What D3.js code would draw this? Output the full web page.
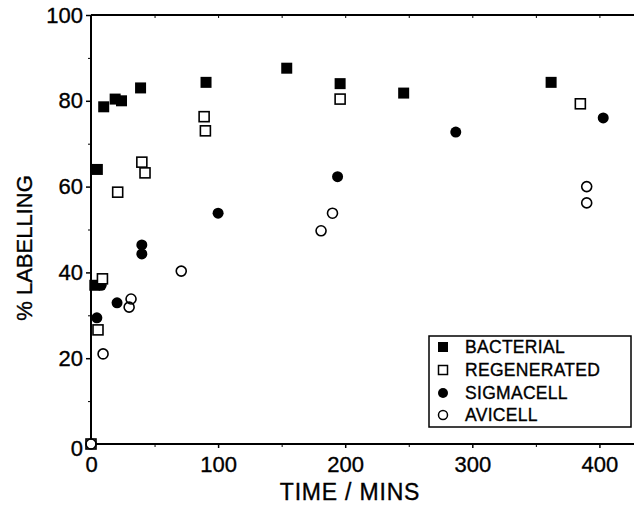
<!DOCTYPE html>
<html><head><meta charset="utf-8">
<script src="https://cdn.jsdelivr.net/npm/d3@7"></script>
<style>body{margin:0;background:#fff}svg{display:block}text{font-family:"Liberation Sans",Arial,sans-serif;fill:#000;stroke:#000;stroke-width:0.35px}</style>
</head><body><svg id="c" width="634" height="520"></svg>
<script>
const xTicks = [0, 100, 200, 300, 400];
const yTicks = [0, 20, 40, 60, 80, 100];
const seriesNames = ["BACTERIAL", "REGENERATED", "SIGMACELL", "AVICELL"];
const bacterial = [[3,37],[5,64],[10,78.6],[19,80.4],[24,80],[39,83],[90.5,84.3],[154,87.6],[196,84],[246,81.8],[362,84.3]];
const regenerated = [[0,0],[5.5,26.6],[9,38.5],[21,58.7],[40,65.7],[42.5,63.2],[89,76.3],[90,73],[196,80.4],[385,79.3]];
const sigmacell = [[4.6,29.4],[8,37],[20.5,32.9],[40,46.4],[40,44.3],[100,53.8],[194,62.3],[287,72.7],[403,76]];
const avicell = [[0,0],[9.5,21],[30,31.9],[31.5,33.8],[71,40.3],[181,49.7],[190,53.8],[390,60],[390,56.2]];

const svg = d3.select("#c");
const x = d3.scaleLinear().domain([0, 428]).range([91, 635]);
const y = d3.scaleLinear().domain([0, 100]).range([444, 15]);

// frame lines
const g = svg.append("g");
g.append("line").attr("x1", x(0)).attr("x2", 634).attr("y1", y(0)).attr("y2", y(0)).attr("stroke","#000").attr("stroke-width",2);
g.append("line").attr("x1", x(0)).attr("x2", 634).attr("y1", y(100)).attr("y2", y(100)).attr("stroke","#000").attr("stroke-width",2);
g.append("line").attr("x1", x(0)).attr("x2", x(0)).attr("y1", y(0)).attr("y2", y(100)).attr("stroke","#000").attr("stroke-width",2);

// y axis
const yAxis = d3.axisLeft(y).tickValues(yTicks).tickSize(5).tickPadding(3).tickFormat(d3.format("d"));
const ya = svg.append("g").attr("transform", `translate(${x(0)},0)`).call(yAxis);
ya.select(".domain").remove();
ya.selectAll("line").attr("stroke-width",1.5);
ya.selectAll("text").style("font-size","22px").style("font-family",'"Liberation Sans",Arial,sans-serif');
ya.selectAll(".tick").filter(d=>d===0).select("text").attr("dy","0.5em");
// y minor
const yMinor = d3.axisLeft(y).tickValues([10,30,50,70,90]).tickSize(3).tickFormat("");
const ym = svg.append("g").attr("transform", `translate(${x(0)},0)`).call(yMinor);
ym.select(".domain").remove();

// x axis
const xAxis = d3.axisBottom(x).tickValues(xTicks).tickSize(4).tickPadding(8).tickFormat(d3.format("d"));
const xa = svg.append("g").attr("transform", `translate(0,${y(0)})`).call(xAxis);
xa.select(".domain").remove();
xa.selectAll("line").attr("stroke-width",1.5);
xa.selectAll("text").style("font-size","22px").style("font-family",'"Liberation Sans",Arial,sans-serif');
const xMinor = d3.axisBottom(x).tickValues([50,150,250,350]).tickSize(3).tickFormat("");
const xm = svg.append("g").attr("transform", `translate(0,${y(0)})`).call(xMinor);
xm.select(".domain").remove();
// top ticks
const xTop = d3.axisBottom(x).tickValues([50,100,150,200,250,300,350,400]).tickSize(3).tickFormat("");
const xt = svg.append("g").attr("transform", `translate(0,${y(100)})`).call(xTop);
xt.select(".domain").remove();

// titles
svg.append("text").attr("x", 350).attr("y", 500).attr("text-anchor","middle")
  .style("font-size","23px").style("letter-spacing","0.8px").text("TIME / MINS");
svg.append("text").attr("transform","translate(32,248) rotate(-90)").attr("text-anchor","middle")
  .style("font-size","22px").text("% LABELLING");

// markers
const sq = 11, osq = 10, r = 5.5, or = 5;
const pts = svg.append("g");
pts.selectAll(".bac").data(bacterial).join("rect")
  .attr("x", d=>x(d[0])-sq/2).attr("y", d=>y(d[1])-sq/2).attr("width",sq).attr("height",sq).attr("fill","#000");
pts.selectAll(".sig").data(sigmacell).join("circle")
  .attr("cx", d=>x(d[0])).attr("cy", d=>y(d[1])).attr("r", r).attr("fill","#000");
pts.selectAll(".reg").data(regenerated).join("rect")
  .attr("x", d=>x(d[0])-osq/2).attr("y", d=>y(d[1])-osq/2).attr("width",osq).attr("height",osq)
  .attr("fill","#fff").attr("stroke","#000").attr("stroke-width",1.6);
pts.selectAll(".avi").data(avicell).join("circle")
  .attr("cx", d=>x(d[0])).attr("cy", d=>y(d[1])).attr("r", or)
  .attr("fill","none").attr("stroke","#000").attr("stroke-width",1.6);

// legend
const lg = svg.append("g");
lg.append("rect").attr("x",429).attr("y",336).attr("width",202).attr("height",91)
  .attr("fill","#fff").attr("stroke","#000").attr("stroke-width",1.5);
const rowY = [347, 370, 393, 415];
seriesNames.forEach((n,i)=>{
  const cy = rowY[i], cx = 443;
  if(i===0) lg.append("rect").attr("x",cx-5).attr("y",cy-5).attr("width",10).attr("height",10).attr("fill","#000");
  if(i===1) lg.append("rect").attr("x",cx-4.5).attr("y",cy-4.5).attr("width",9).attr("height",9).attr("fill","#fff").attr("stroke","#000").attr("stroke-width",1.5);
  if(i===2) lg.append("circle").attr("cx",cx).attr("cy",cy).attr("r",5).attr("fill","#000");
  if(i===3) lg.append("circle").attr("cx",cx).attr("cy",cy).attr("r",4.5).attr("fill","none").attr("stroke","#000").attr("stroke-width",1.5);
  lg.append("text").attr("x",465).attr("y",cy).attr("dy","0.36em").style("font-size","17.5px").style("letter-spacing","0.3px").text(n);
});
</script></body></html>
